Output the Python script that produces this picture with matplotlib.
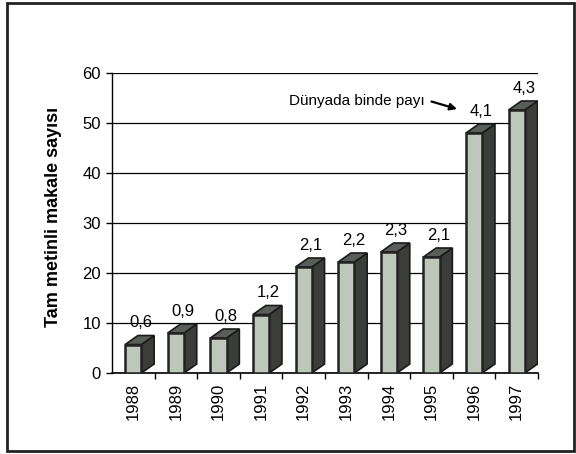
import matplotlib.pyplot as plt
from matplotlib.patches import Polygon, Rectangle

years = ['1988', '1989', '1990', '1991', '1992', '1993', '1994', '1995', '1996', '1997']
articles = [5.7, 8.0, 7.0, 11.7, 21.2, 22.2, 24.2, 23.2, 48.0, 52.6]
share = ['0,6', '0,9', '0,8', '1,2', '2,1', '2,2', '2,3', '2,1', '4,1', '4,3']

plt.rcParams['font.family'] = ['Liberation Sans', 'DejaVu Sans']

fig = plt.figure(figsize=(5.76, 4.54), dpi=100)
ax = fig.add_axes([0.1944, 0.1784, 0.7396, 0.6608])

# 3d-ish columns: front face, top, right side
w, dx, dy = 0.38, 0.30, 1.8
for i, v in enumerate(articles):
    x0 = i + 0.5 - 0.19
    side = Polygon([(x0 + w, 0), (x0 + w + dx, dy), (x0 + w + dx, v + dy), (x0 + w, v)],
                   closed=True, fc='#3a3d3a', ec='#1a1a1a', lw=1.2, zorder=3)
    top = Polygon([(x0, v), (x0 + w, v), (x0 + w + dx, v + dy), (x0 + dx, v + dy)],
                  closed=True, fc='#5a5e5a', ec='#1a1a1a', lw=1.2, zorder=3)
    front = Rectangle((x0, 0), w, v, fc='#bfc6bc', ec='#222222', lw=1.8, zorder=4)
    ax.add_patch(side)
    ax.add_patch(top)
    ax.add_patch(front)
    ax.text(i + 0.5 + 0.17, v + 4.4, share[i], ha='center', va='center', fontsize=12, zorder=5)

ax.set_xlim(0, 10)
ax.set_ylim(0, 60)
ax.set_yticks(range(0, 61, 10))
ax.set_xticks([i + 0.5 for i in range(len(years))])
ax.set_xticklabels(years, rotation=90, fontsize=12)
ax.set_xticks(range(1, 11), minor=True)
ax.tick_params(axis='x', which='major', length=0, pad=7)
ax.tick_params(axis='x', which='minor', length=4, direction='out', width=1)
ax.tick_params(axis='y', length=4, direction='out', width=1, labelsize=12, pad=4)
ax.yaxis.grid(True, color='black', lw=0.9)
ax.set_axisbelow(True)
for s in ['top', 'right']:
    ax.spines[s].set_visible(False)
ax.spines['left'].set_linewidth(1)
ax.spines['bottom'].set_linewidth(1.2)

ax.set_ylabel('Tam metinli makale sayısı', fontsize=13, fontweight='bold')
ax.yaxis.set_label_coords(-0.118, 0.52)

ax.text(7.35, 54.4, 'Dünyada binde payı', ha='right', va='center', fontsize=11)
ax.annotate('', xy=(8.1, 52.8), xytext=(7.5, 54.3),
            arrowprops=dict(arrowstyle='-|>', color='black', lw=1.6, mutation_scale=10,
                            shrinkA=0, shrinkB=0))

# outer frame
fig.add_artist(Rectangle((7 / 576, 1 - 451 / 454), 567 / 576, 448 / 454,
                         transform=fig.transFigure, fill=False, ec='#222222', lw=2))

fig.savefig('out.png', dpi=100)
